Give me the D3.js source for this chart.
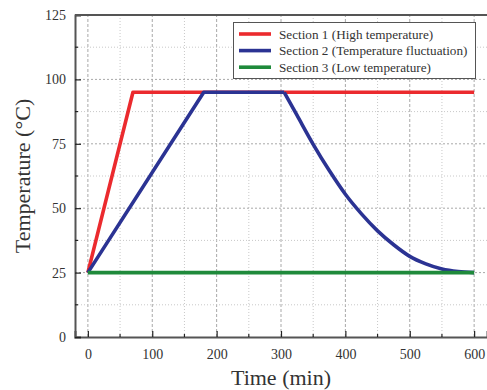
<!DOCTYPE html>
<html>
<head>
<meta charset="utf-8">
<script src="https://cdn.jsdelivr.net/npm/d3@7"></script>
<style>
  body { margin: 0; background: #fff; }
  text { font-family: "Liberation Serif", "Times New Roman", serif; fill: #333; }
</style>
</head>
<body>
<svg id="chart" width="487" height="390"></svg>
<script>
// series data (time in min, temperature in °C)
var section1 = [[0, 25], [70, 95], [600, 95]];
var section2Ramp = [[0, 25], [180, 95], [305, 95]];
var section2Decay = [[305, 95], [325, 86], [350, 74.8], [375, 64.6], [400, 55.4], [425, 47.8], [450, 41.2], [475, 35.8], [500, 31.3], [525, 28.4], [550, 26.4], [575, 25.4], [600, 25]];
var section3 = [[0, 25], [600, 25]];

var seriesNames = ["Section 1 (High temperature)", "Section 2 (Temperature fluctuation)", "Section 3 (Low temperature)"];
var seriesColors = ["#eb2a2e", "#2b3393", "#1f8a3b"];

var xTicks = [0, 100, 200, 300, 400, 500, 600];
var xMinor = [50, 150, 250, 350, 450, 550];
var yTicks = [0, 25, 50, 75, 100, 125];
var yMinor = [12.5, 37.5, 62.5, 87.5, 112.5];

var svg = d3.select("#chart");
var margin = {left: 75, top: 15, right: 0, bottom: 53};
var width = 487 - margin.left - margin.right,
    height = 390 - margin.top - margin.bottom;

var x = d3.scaleLinear().domain([-20, 620]).range([margin.left, margin.left + width]);
var y = d3.scaleLinear().domain([0, 125]).range([margin.top + height, margin.top]);

var g = svg.append("g");

// grid
g.selectAll(".vgrid-minor").data(xMinor).enter().append("line")
    .attr("x1", d => x(d)).attr("x2", d => x(d))
    .attr("y1", y(0)).attr("y2", y(125))
    .attr("stroke", "#c8c8c8").attr("stroke-width", 1).attr("stroke-dasharray", "1,2");
g.selectAll(".vgrid").data(xTicks).enter().append("line")
    .attr("x1", d => x(d)).attr("x2", d => x(d))
    .attr("y1", y(0)).attr("y2", y(125))
    .attr("stroke", "#a8a8a8").attr("stroke-width", 1).attr("stroke-dasharray", "3,2");
g.selectAll(".hgrid-minor").data(yMinor).enter().append("line")
    .attr("x1", x(-20)).attr("x2", x(620))
    .attr("y1", d => y(d)).attr("y2", d => y(d))
    .attr("stroke", "#c8c8c8").attr("stroke-width", 1).attr("stroke-dasharray", "1,2");
g.selectAll(".hgrid").data(yTicks.slice(1, 5)).enter().append("line")
    .attr("x1", x(-20)).attr("x2", x(620))
    .attr("y1", d => y(d)).attr("y2", d => y(d))
    .attr("stroke", "#a8a8a8").attr("stroke-width", 1).attr("stroke-dasharray", "2,2");

// lines
var line = d3.line().x(d => x(d[0])).y(d => y(d[1]));
var smooth = d3.line().x(d => x(d[0])).y(d => y(d[1])).curve(d3.curveMonotoneX);

function drawLine(data, gen, color) {
  g.append("path").datum(data)
    .attr("d", gen)
    .attr("fill", "none")
    .attr("stroke", color)
    .attr("stroke-width", 3.6)
    .attr("stroke-linejoin", "round");
}
drawLine(section1, line, seriesColors[0]);
drawLine(section2Ramp, line, seriesColors[1]);
drawLine(section2Decay, smooth, seriesColors[1]);
drawLine(section3, line, seriesColors[2]);

// axes
var xAxis = d3.axisBottom(x).tickValues(xTicks).tickSize(-6).tickPadding(9);
var xAxisG = g.append("g").attr("transform", "translate(0," + y(0) + ")").call(xAxis);
xAxisG.selectAll(".minor").data(xMinor).enter().append("line")
    .attr("x1", d => x(d)).attr("x2", d => x(d)).attr("y1", 0).attr("y2", -3)
    .attr("stroke", "#222").attr("stroke-width", 1.2);

var yAxis = d3.axisLeft(y).tickValues(yTicks).tickSize(-6).tickPadding(9);
var yAxisG = g.append("g").attr("transform", "translate(" + x(-20) + ",0)").call(yAxis);
yAxisG.selectAll(".minor").data(yMinor).enter().append("line")
    .attr("x1", 0).attr("x2", 3).attr("y1", d => y(d)).attr("y2", d => y(d))
    .attr("stroke", "#222").attr("stroke-width", 1.2);

[xAxisG, yAxisG].forEach(function(a) {
  a.select(".domain").attr("stroke", "#555").attr("stroke-width", 2);
  a.selectAll(".tick line").attr("stroke", "#222").attr("stroke-width", 1.2);
  a.selectAll(".tick text").attr("font-size", 14).attr("fill", "#333")
    .attr("font-family", "Liberation Serif, serif");
});
xAxisG.selectAll(".tick text").attr("dy", "0.9em");

// top frame
g.append("line").attr("x1", x(-20)).attr("x2", 487).attr("y1", y(125)).attr("y2", y(125))
    .attr("stroke", "#555").attr("stroke-width", 2);

// axis titles
svg.append("text").attr("x", 281).attr("y", 385).attr("text-anchor", "middle")
    .attr("font-size", 22).text("Time (min)");
svg.append("text").attr("transform", "translate(30,176) rotate(-90)").attr("text-anchor", "middle")
    .attr("font-size", 22).text("Temperature (°C)");

// legend
var lg = svg.append("g");
lg.append("rect").attr("x", 233.5).attr("y", 22.5).attr("width", 242).attr("height", 56)
    .attr("fill", "#fff").attr("stroke", "#555").attr("stroke-width", 1);
seriesNames.forEach(function(name, i) {
  var yy = 34 + i * 16.6;
  lg.append("line").attr("x1", 239).attr("x2", 271).attr("y1", yy).attr("y2", yy)
    .attr("stroke", seriesColors[i]).attr("stroke-width", 3.6);
  lg.append("text").attr("x", 279).attr("y", yy).attr("dy", "0.35em")
    .attr("font-size", 13.2).text(name);
});
</script>
</body>
</html>
